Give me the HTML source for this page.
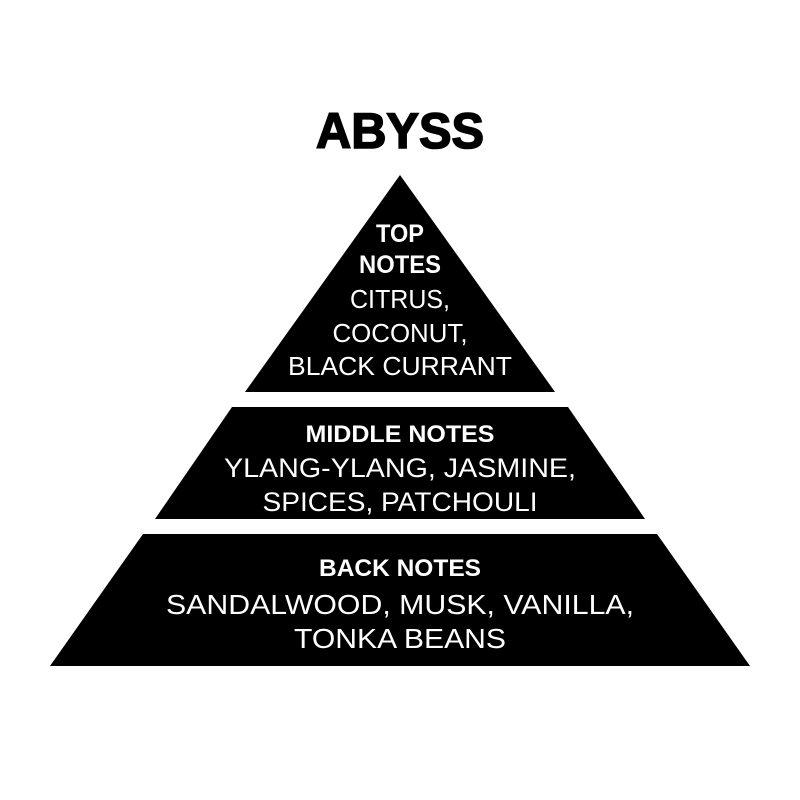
<!DOCTYPE html>
<html><head><meta charset="utf-8"><style>html,body{margin:0;padding:0;background:#fff}svg{display:block}</style></head>
<body>
<svg width="800" height="800" viewBox="0 0 800 800" xmlns="http://www.w3.org/2000/svg">
<rect width="800" height="800" fill="#fff"/>
<polygon points="400,175 555,392 245,392" fill="#000"/>
<polygon points="232,407 568,407 645,519 155,519" fill="#000"/>
<polygon points="143,534 657,534 750,666 50,666" fill="#000"/>
<g font-family="Liberation Sans, sans-serif" text-anchor="middle">
<text x="400" y="148" font-size="50" font-weight="bold" fill="#000" stroke="#000" stroke-width="1.6" textLength="168" lengthAdjust="spacingAndGlyphs">ABYSS</text>
<g fill="#fff">
<text x="400" y="242" font-size="25" font-weight="bold" textLength="48" lengthAdjust="spacingAndGlyphs">TOP</text>
<text x="400" y="273" font-size="25" font-weight="bold" textLength="82" lengthAdjust="spacingAndGlyphs">NOTES</text>
<text x="400" y="308" font-size="26" textLength="100" lengthAdjust="spacingAndGlyphs">CITRUS,</text>
<text x="400" y="342" font-size="26" textLength="135" lengthAdjust="spacingAndGlyphs">COCONUT,</text>
<text x="400" y="375" font-size="26" textLength="224" lengthAdjust="spacingAndGlyphs">BLACK CURRANT</text>
<text x="400" y="442" font-size="24" font-weight="bold" textLength="189" lengthAdjust="spacingAndGlyphs">MIDDLE NOTES</text>
<text x="400" y="477" font-size="27" textLength="352" lengthAdjust="spacingAndGlyphs">YLANG-YLANG, JASMINE,</text>
<text x="400" y="511" font-size="27" textLength="275" lengthAdjust="spacingAndGlyphs">SPICES, PATCHOULI</text>
<text x="400" y="576" font-size="24" font-weight="bold" textLength="162" lengthAdjust="spacingAndGlyphs">BACK NOTES</text>
<text x="400" y="614" font-size="28" textLength="468" lengthAdjust="spacingAndGlyphs">SANDALWOOD, MUSK, VANILLA,</text>
<text x="400" y="648" font-size="28" textLength="212" lengthAdjust="spacingAndGlyphs">TONKA BEANS</text>
</g></g>
</svg>
</body></html>
